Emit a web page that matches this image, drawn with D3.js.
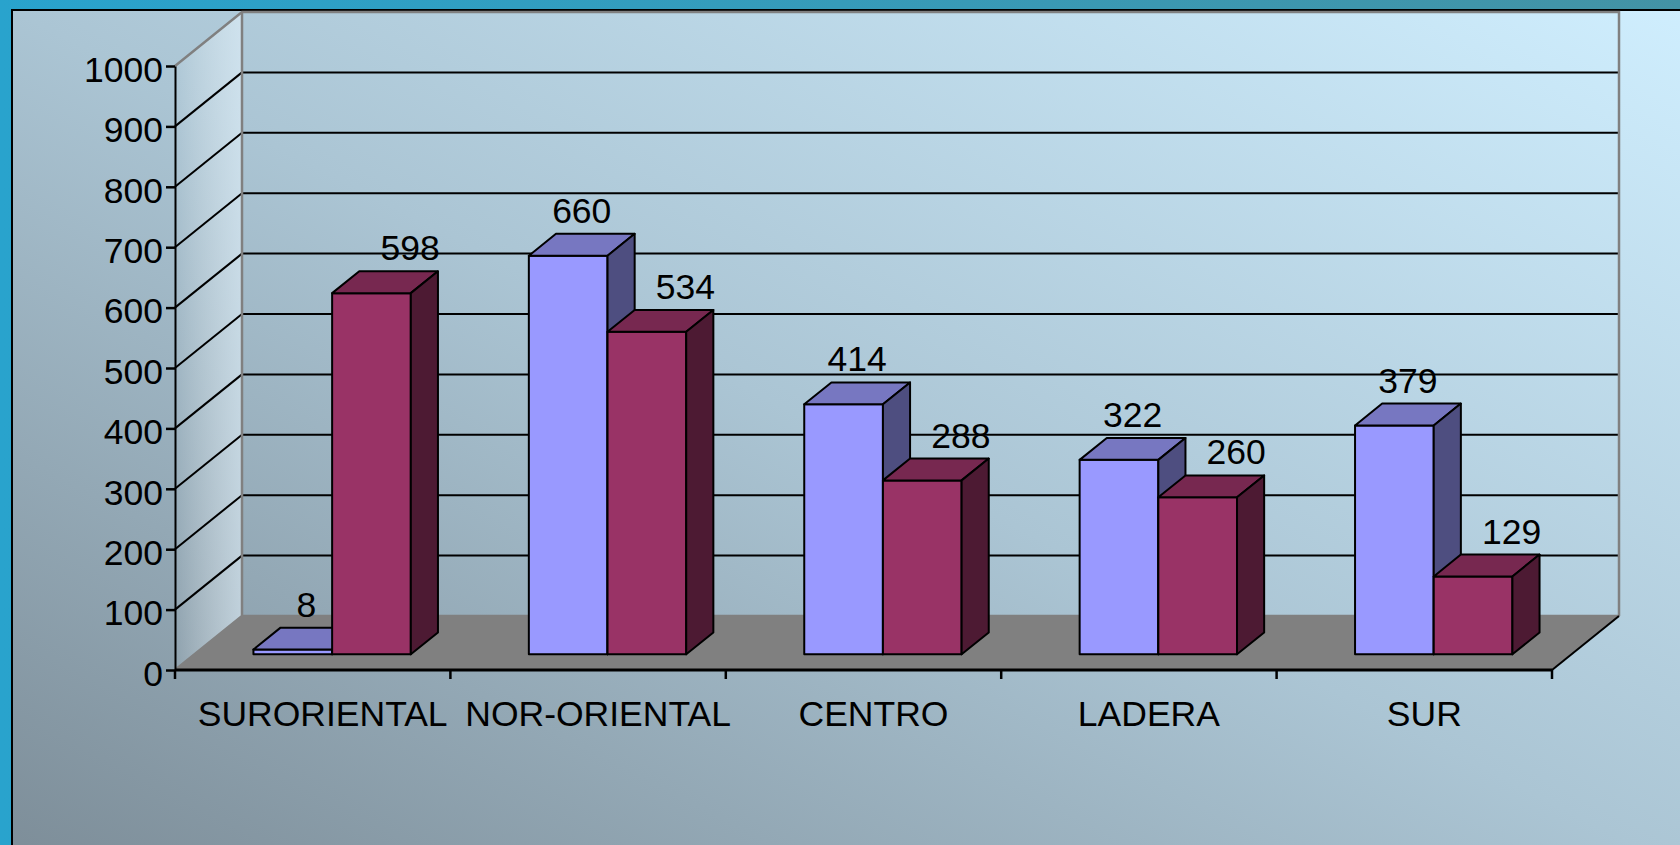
<!DOCTYPE html>
<html>
<head>
<meta charset="utf-8">
<script src="https://cdn.jsdelivr.net/npm/d3@7"></script>
<style>
  body { margin: 0; overflow: hidden; }
  text { font-family: "Liberation Sans", Arial, sans-serif; }
</style>
</head>
<body>
<svg id="chart"></svg>
<script>
// data
const categories = ["SURORIENTAL", "NOR-ORIENTAL", "CENTRO", "LADERA", "SUR"];
const seriesNames = ["s1", "s2"];
const series1 = [8, 660, 414, 322, 379];
const series2 = [598, 534, 288, 260, 129];
const yTicks = [0, 100, 200, 300, 400, 500, 600, 700, 800, 900, 1000];

const W = 1680, H = 845;
const svg = d3.select('#chart').attr('width', W).attr('height', H);

// 3d projection: depth offset of the back wall
const DX = 67, DY = -54;
const D0 = 0.29, D1 = 0.695;   // front / back depth of bars
const fontSize = 35.5;

const x = d3.scaleBand().domain(categories).range([175, 1552]).padding(0);
const bw = x.bandwidth();
const barW = bw / 3.5;
const xs = d3.scaleBand().domain(seriesNames).range([barW * 0.75, bw - barW * 0.75]).padding(0);
const y = d3.scaleLinear([0, 1000], [670, 66]);

const palette = {
    s1: {front: '#9999ff', top: '#7777c1', side: '#4e4e80'},
    s2: {front: '#993366', top: '#772850', side: '#4d1a33'}
};

const defs = svg.append('defs');
const outerGrad = defs.append('linearGradient').attr('id', 'outer');
outerGrad.append('stop').attr('offset', 0).attr('stop-color', '#29a3cd');
outerGrad.append('stop').attr('offset', 1).attr('stop-color', '#4393a5');

const panelGrad = defs.append('linearGradient').attr('id', 'panel')
    .attr('x1', 0).attr('y1', 1).attr('x2', 1).attr('y2', 0);
panelGrad.append('stop').attr('offset', 0).attr('stop-color', '#7b8b96');
panelGrad.append('stop').attr('offset', 0.5).attr('stop-color', '#abc5d4');
panelGrad.append('stop').attr('offset', 1).attr('stop-color', '#d0efff');

const wallGrad = defs.append('linearGradient').attr('id', 'wall');
wallGrad.append('stop').attr('offset', 0).attr('stop-color', '#ffffff').attr('stop-opacity', 0.02);
wallGrad.append('stop').attr('offset', 1).attr('stop-color', '#e8f6ff').attr('stop-opacity', 0.55);

svg.append('rect').attr('width', W).attr('height', H).attr('fill', 'url(#outer)');
svg.append('rect')
    .attr('x', 12).attr('y', 10).attr('width', W + 40).attr('height', H + 40)
    .attr('fill', 'url(#panel)').attr('stroke', '#000').attr('stroke-width', 2);

const x0 = x.range()[0], x1 = x.range()[1];
const pt = p => p.map(d => d.join(',')).join(' ');

// left wall
svg.append('polygon')
    .attr('points', pt([[x0, y(0)], [x0, y(1000)], [x0 + DX, y(1000) + DY], [x0 + DX, y(0) + DY]]))
    .attr('fill', 'url(#wall)');

// floor
svg.append('polygon')
    .attr('points', pt([[x0, y(0)], [x1, y(0)], [x1 + DX, y(0) + DY], [x0 + DX, y(0) + DY]]))
    .attr('fill', '#808080');

// gridlines on back and left walls
const grid = svg.append('g').attr('stroke', '#000').attr('stroke-width', 2);
const inner = yTicks.filter(t => t > 0 && t < 1000);
grid.selectAll('.back').data(inner).join('line')
    .attr('x1', x0 + DX).attr('x2', x1 + DX)
    .attr('y1', d => y(d) + DY).attr('y2', d => y(d) + DY);
grid.selectAll('.side').data(inner).join('line')
    .attr('x1', x0).attr('x2', x0 + DX)
    .attr('y1', d => y(d)).attr('y2', d => y(d) + DY);

// wall edges
const edges = svg.append('g').attr('stroke', '#808080').attr('stroke-width', 2.5).attr('fill', 'none');
edges.append('polyline')
    .attr('points', pt([[x0, y(1000)], [x0 + DX, y(1000) + DY], [x1 + DX, y(1000) + DY], [x1 + DX, y(0) + DY]]));
edges.append('polyline')
    .attr('points', pt([[x0, y(0)], [x0 + DX, y(0) + DY], [x0 + DX, y(1000) + DY]]));
edges.append('line')
    .attr('x1', x0 + DX).attr('x2', x1 + DX).attr('y1', y(0) + DY).attr('y2', y(0) + DY);

// floor right edge
svg.append('line')
    .attr('x1', x1).attr('y1', y(0)).attr('x2', x1 + DX).attr('y2', y(0) + DY)
    .attr('stroke', '#000').attr('stroke-width', 2);

// y axis
const yAxis = svg.append('g')
    .attr('transform', `translate(${x0},0)`)
    .call(d3.axisLeft(y).tickValues(yTicks).tickFormat(d3.format('d'))
        .tickSize(9).tickPadding(3).tickSizeOuter(0));
yAxis.select('.domain').attr('stroke', '#000').attr('stroke-width', 2);
yAxis.selectAll('.tick line').attr('stroke', '#000').attr('stroke-width', 2.5);
yAxis.selectAll('.tick text')
    .attr('fill', '#000').attr('dy', '0.43em')
    .style('font-size', fontSize + 'px');

// x axis
svg.append('line')
    .attr('x1', x0).attr('x2', x1).attr('y1', y(0)).attr('y2', y(0))
    .attr('stroke', '#000').attr('stroke-width', 3);
const bounds = categories.map(c => x(c)).concat([x1]);
svg.append('g').selectAll('line').data(bounds).join('line')
    .attr('x1', d => d).attr('x2', d => d)
    .attr('y1', y(0)).attr('y2', y(0) + 9)
    .attr('stroke', '#000').attr('stroke-width', 2.5);
svg.append('g').selectAll('text').data(categories).join('text')
    .attr('x', d => x(d) + bw / 2 + 10)
    .attr('y', 726)
    .attr('text-anchor', 'middle')
    .style('font-size', fontSize + 'px')
    .text(d => d);

// bars
const rows = [];
categories.forEach((c, i) => {
    rows.push({cat: c, s: 's1', value: series1[i]});
    rows.push({cat: c, s: 's2', value: series2[i]});
});

const bdx = (D1 - D0) * DX, bdy = (D1 - D0) * DY;
const geom = d => {
    const left = x(d.cat) + xs(d.s) + D0 * DX;
    const bottom = y(0) + D0 * DY;
    const top = y(d.value) + D0 * DY;
    return {left, right: left + barW, bottom, top};
};

const bars = svg.append('g')
    .attr('stroke', '#000').attr('stroke-width', 2).attr('stroke-linejoin', 'round')
    .selectAll('g').data(rows).join('g');

bars.append('rect')
    .attr('x', d => geom(d).left)
    .attr('y', d => geom(d).top)
    .attr('width', barW)
    .attr('height', d => geom(d).bottom - geom(d).top)
    .attr('fill', d => palette[d.s].front);
bars.append('polygon')
    .attr('points', d => {
        const g = geom(d);
        return pt([[g.left, g.top], [g.right, g.top], [g.right + bdx, g.top + bdy], [g.left + bdx, g.top + bdy]]);
    })
    .attr('fill', d => palette[d.s].top);
bars.append('polygon')
    .attr('points', d => {
        const g = geom(d);
        return pt([[g.right, g.top], [g.right + bdx, g.top + bdy], [g.right + bdx, g.bottom + bdy], [g.right, g.bottom]]);
    })
    .attr('fill', d => palette[d.s].side);

// value labels
svg.append('g').selectAll('text').data(rows).join('text')
    .attr('x', d => geom(d).left + barW / 2 + bdx / 2 + (d.s === 's2' ? 25 : 0))
    .attr('y', d => geom(d).top + bdy - 11)
    .attr('text-anchor', 'middle')
    .style('font-size', fontSize + 'px')
    .text(d => d.value);
</script>
</body>
</html>
